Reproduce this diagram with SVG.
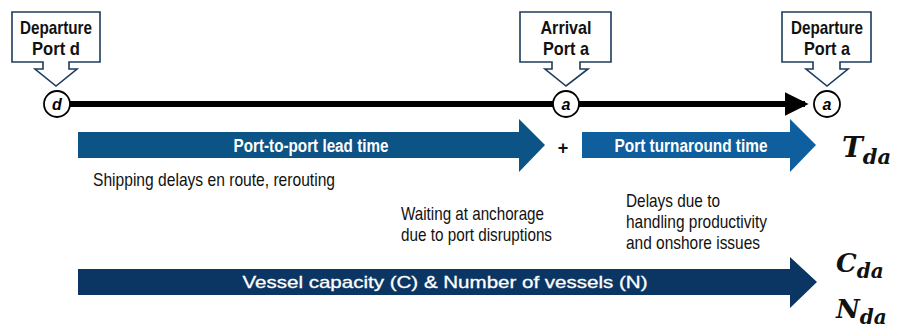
<svg xmlns="http://www.w3.org/2000/svg" width="921" height="330" viewBox="0 0 921 330">
<defs>
<style>
.callout{fill:#fff;stroke:#1d3c5c;stroke-width:1.6;stroke-linejoin:miter}
.ctext{font-family:"Liberation Sans",Arial,sans-serif;font-weight:bold;font-size:19px;fill:#111;text-anchor:middle}
.node{fill:#fff;stroke:#000;stroke-width:1.8}
.ntext{font-family:"Liberation Sans",Arial,sans-serif;font-weight:bold;font-style:italic;font-size:16px;fill:#000;text-anchor:middle}
.atext{font-family:"Liberation Sans",Arial,sans-serif;font-weight:bold;font-size:18px;fill:#fff;text-anchor:middle}
.vtext{font-family:"Liberation Sans",Arial,sans-serif;font-weight:normal;font-size:17px;fill:#fff;text-anchor:middle;stroke:#fff;stroke-width:0.3}
.body{font-family:"Liberation Sans",Arial,sans-serif;font-size:19px;fill:#111}
.math{font-family:"DejaVu Serif","Liberation Serif",serif;font-weight:bold;font-style:italic;fill:#111}
</style>
<marker id="ah" markerWidth="4" markerHeight="4" refX="3.4" refY="2" orient="auto" markerUnits="strokeWidth">
<path d="M0,0 L4,2 L0,4 Z" fill="#000"/>
</marker>
</defs>
<rect width="921" height="330" fill="#fff"/>

<g id="connectors">
<line x1="70" y1="104" x2="805" y2="104" stroke="#000" stroke-width="6" marker-end="url(#ah)"/>
</g>

<g id="callout-departure-d">
<path class="callout" d="M12,12 H100 V62 H69 V69 H77 L56,86 L35,69 H43 V62 H12 Z"/>
<text class="ctext" x="56" y="34" textLength="72" lengthAdjust="spacingAndGlyphs">Departure</text>
<text class="ctext" x="56" y="55" textLength="48" lengthAdjust="spacingAndGlyphs">Port d</text>
</g>
<g id="callout-arrival-a">
<path class="callout" d="M520,12 H611 V62 H580 V69 H588 L566,86 L545,69 H552 V62 H520 Z"/>
<text class="ctext" x="566" y="34" textLength="51" lengthAdjust="spacingAndGlyphs">Arrival</text>
<text class="ctext" x="566" y="55" textLength="46" lengthAdjust="spacingAndGlyphs">Port a</text>
</g>
<g id="callout-departure-a">
<path class="callout" d="M782,12 H871 V62 H840 V69 H848 L827,86 L806,69 H813 V62 H782 Z"/>
<text class="ctext" x="827" y="34" textLength="72" lengthAdjust="spacingAndGlyphs">Departure</text>
<text class="ctext" x="827" y="55" textLength="46" lengthAdjust="spacingAndGlyphs">Port a</text>
</g>

<g id="node-d">
<circle class="node" cx="57" cy="104" r="13"/>
<text class="ntext" x="57" y="110">d</text>
</g>
<g id="node-a1">
<circle class="node" cx="566" cy="104" r="13"/>
<text class="ntext" x="566" y="110">a</text>
</g>
<g id="node-a2">
<circle class="node" cx="827" cy="104" r="13"/>
<text class="ntext" x="827" y="110">a</text>
</g>

<g id="arrow-lead-time">
<path d="M78,132 H519 V119 L545,145 L519,172 V158 H78 Z" fill="#0c5386"/>
<text class="atext" x="311" y="151.5" textLength="155" lengthAdjust="spacingAndGlyphs">Port-to-port lead time</text>
</g>
<text x="563" y="154" font-family="Liberation Sans,Arial,sans-serif" font-weight="bold" font-size="18" text-anchor="middle" fill="#111">+</text>
<g id="arrow-turnaround">
<path d="M582,132 H790 V119 L816,145 L790,172 V158 H582 Z" fill="#0f5e9e"/>
<text class="atext" x="691" y="151.5" textLength="153" lengthAdjust="spacingAndGlyphs">Port turnaround time</text>
</g>
<g id="arrow-vessels">
<path d="M78,269 H790 V257 L817,282 L790,308 V295 H78 Z" fill="#0b3663"/>
<text class="vtext" x="445" y="288" textLength="405" lengthAdjust="spacingAndGlyphs">Vessel capacity (C) &amp; Number of vessels (N)</text>
</g>

<g id="notes">
<text class="body" x="93" y="186" textLength="242" lengthAdjust="spacingAndGlyphs">Shipping delays en route, rerouting</text>
<text class="body" x="401" y="220" textLength="143" lengthAdjust="spacingAndGlyphs">Waiting at anchorage</text>
<text class="body" x="401" y="241" textLength="151" lengthAdjust="spacingAndGlyphs">due to port disruptions</text>
<text class="body" x="626" y="207" textLength="94" lengthAdjust="spacingAndGlyphs">Delays due to</text>
<text class="body" x="626" y="228" textLength="141" lengthAdjust="spacingAndGlyphs">handling productivity</text>
<text class="body" x="626" y="249" textLength="134" lengthAdjust="spacingAndGlyphs">and onshore issues</text>
</g>

<g id="labels">
<text class="math" x="842" y="157" font-size="28">T<tspan font-size="21" dy="7">da</tspan></text>
<text class="math" x="836" y="272" font-size="26">C<tspan font-size="20" dy="6">da</tspan></text>
<text class="math" x="836" y="318" font-size="26">N<tspan font-size="20" dy="6">da</tspan></text>
</g>
</svg>
